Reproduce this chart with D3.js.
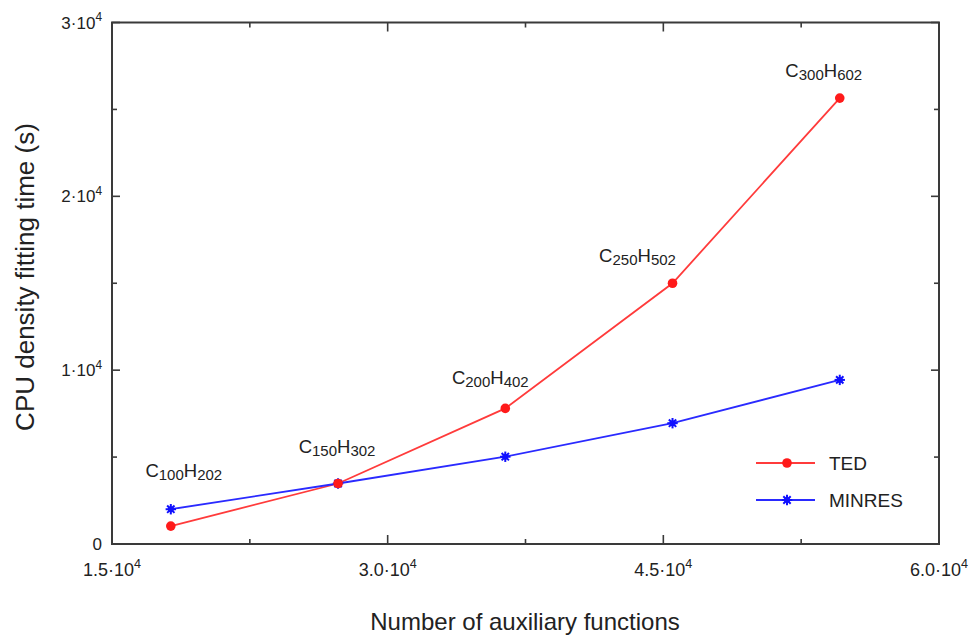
<!DOCTYPE html>
<html>
<head>
<meta charset="utf-8">
<script src="https://cdn.jsdelivr.net/npm/d3@7"></script>
<style>
  html, body { margin: 0; padding: 0; background: #fff; }
  svg { display: block; font-family: "Liberation Sans", Arial, Helvetica, sans-serif; }
</style>
</head>
<body>
<svg id="chart" width="970" height="635"></svg>
<script>
// Number of auxiliary functions for each alkane chain
const auxFunctions = [18200, 27300, 36400, 45500, 54600];
// CPU density fitting time (s)
const tedTimes    = [1030, 3480, 7800, 15000, 25650];
const minresTimes = [2000, 3480, 5020, 6950, 9440];
// Molecule labels: [carbon count, hydrogen count]
const molecules = [[100, 202], [150, 302], [200, 402], [250, 502], [300, 602]];

// Axis ticks: value, mantissa, exponent
const xTicks = [15000, 30000, 45000, 60000];
const xTickMantissa = ["1.5", "3.0", "4.5", "6.0"];
const yTicks = [0, 10000, 20000, 30000];
const yTickMantissa = ["0", "1", "2", "3"];
const xMinorTicks = [22500, 37500, 52500];
const yMinorTicks = [5000, 15000, 25000];

const seriesNames = ["TED", "MINRES"];

const svg = d3.select("#chart");
const plotLeft = 112, plotRight = 939, plotTop = 22.5, plotBottom = 544;

const x = d3.scaleLinear().domain([15000, 60000]).range([plotLeft, plotRight]);
const y = d3.scaleLinear().domain([0, 30000]).range([plotBottom, plotTop]);

const frameColor = "#3a3a3a";
const red = "#ff1a1a", redLine = "#ff3b3b";
const blue = "#1010ff", blueLine = "#2a2aff";

// Ticks, mirrored on all four sides, pointing inward
const tickG = svg.append("g").attr("stroke", frameColor).attr("stroke-width", 1.6);
function xTick(v, len) {
  tickG.append("line").attr("x1", x(v)).attr("x2", x(v)).attr("y1", plotBottom).attr("y2", plotBottom - len);
  tickG.append("line").attr("x1", x(v)).attr("x2", x(v)).attr("y1", plotTop).attr("y2", plotTop + len);
}
function yTick(v, len) {
  tickG.append("line").attr("y1", y(v)).attr("y2", y(v)).attr("x1", plotLeft).attr("x2", plotLeft + len);
  tickG.append("line").attr("y1", y(v)).attr("y2", y(v)).attr("x1", plotRight).attr("x2", plotRight - len);
}
xTicks.forEach(v => xTick(v, 9));
xMinorTicks.forEach(v => xTick(v, 5));
yTicks.forEach(v => yTick(v, 8));
yMinorTicks.forEach(v => yTick(v, 5));

// Frame
svg.append("rect")
  .attr("x", plotLeft).attr("y", plotTop)
  .attr("width", plotRight - plotLeft).attr("height", plotBottom - plotTop)
  .attr("fill", "none").attr("stroke", frameColor).attr("stroke-width", 2);

// Tick labels written as m·10^4
function sciLabel(g, mant, isZero, size) {
  const t = g.append("text").attr("fill", "#222").attr("font-size", size);
  if (isZero) { t.text("0"); return t; }
  t.append("tspan").text(mant + "\u00B710");
  t.append("tspan").attr("font-size", size * 0.7).attr("dy", -size * 0.42).text("4");
  return t;
}
xTicks.forEach((v, i) => {
  const g = svg.append("g").attr("transform", `translate(${x(v)},${576})`);
  sciLabel(g, xTickMantissa[i], false, 18).attr("text-anchor", "middle");
});
yTicks.forEach((v, i) => {
  const g = svg.append("g").attr("transform", `translate(${plotLeft - 10},${y(v) + 6})`);
  sciLabel(g, yTickMantissa[i], v === 0, 17).attr("text-anchor", "end");
});

// Axis titles
svg.append("text")
  .attr("x", 525).attr("y", 630)
  .attr("text-anchor", "middle").attr("font-size", 24).attr("fill", "#222")
  .text("Number of auxiliary functions");
svg.append("text")
  .attr("transform", `translate(34,${277}) rotate(-90)`)
  .attr("text-anchor", "middle").attr("font-size", 26).attr("fill", "#222")
  .text("CPU density fitting time (s)");

// Series lines
const line = d3.line().x(d => x(d[0])).y(d => y(d[1]));
const tedData = auxFunctions.map((v, i) => [v, tedTimes[i]]);
const minresData = auxFunctions.map((v, i) => [v, minresTimes[i]]);

svg.append("path").datum(tedData).attr("d", line)
  .attr("fill", "none").attr("stroke", redLine).attr("stroke-width", 1.8);
svg.append("path").datum(minresData).attr("d", line)
  .attr("fill", "none").attr("stroke", blueLine).attr("stroke-width", 1.8);

// Markers
function circleMarker(g, cx, cy) {
  g.append("circle").attr("cx", cx).attr("cy", cy).attr("r", 4.8).attr("fill", red);
}
function starMarker(g, cx, cy) {
  const s = g.append("g").attr("transform", `translate(${cx},${cy})`)
    .attr("stroke", blue).attr("stroke-width", 2);
  const r = 5.2;
  [0, 45, 90, 135].forEach(a => {
    const rad = a * Math.PI / 180;
    s.append("line")
      .attr("x1", -r * Math.cos(rad)).attr("y1", -r * Math.sin(rad))
      .attr("x2", r * Math.cos(rad)).attr("y2", r * Math.sin(rad));
  });
  s.append("circle").attr("r", 3).attr("fill", blue).attr("stroke", "none");
}
const markG = svg.append("g");
minresData.forEach(d => starMarker(markG, x(d[0]), y(d[1])));
tedData.forEach(d => circleMarker(markG, x(d[0]), y(d[1])));

// Molecule labels, placed above the upper point of each pair
const labelOffsets = [[13, -32], [-1, -31], [-15, -24], [-35, -21], [-16, -21]];
molecules.forEach((m, i) => {
  const upper = Math.max(tedTimes[i], minresTimes[i]);
  const t = svg.append("text")
    .attr("x", x(auxFunctions[i]) + labelOffsets[i][0])
    .attr("y", y(upper) + labelOffsets[i][1])
    .attr("text-anchor", "middle").attr("font-size", 18.5).attr("fill", "#222");
  t.append("tspan").text("C");
  t.append("tspan").attr("font-size", 15).attr("dy", 3).text(m[0]);
  t.append("tspan").attr("dy", -3).text("H");
  t.append("tspan").attr("font-size", 15).attr("dy", 3).text(m[1]);
});

// Legend
const legend = svg.append("g");
const legendRows = [
  { name: seriesNames[0], color: redLine, marker: circleMarker, yPos: 463 },
  { name: seriesNames[1], color: blueLine, marker: starMarker, yPos: 500 }
];
legendRows.forEach(r => {
  legend.append("line").attr("x1", 756).attr("x2", 815)
    .attr("y1", r.yPos).attr("y2", r.yPos)
    .attr("stroke", r.color).attr("stroke-width", 1.8);
  r.marker(legend, 787, r.yPos);
  legend.append("text").attr("x", 829).attr("y", r.yPos + 7)
    .attr("font-size", 19).attr("fill", "#222").text(r.name);
});
</script>
</body>
</html>
